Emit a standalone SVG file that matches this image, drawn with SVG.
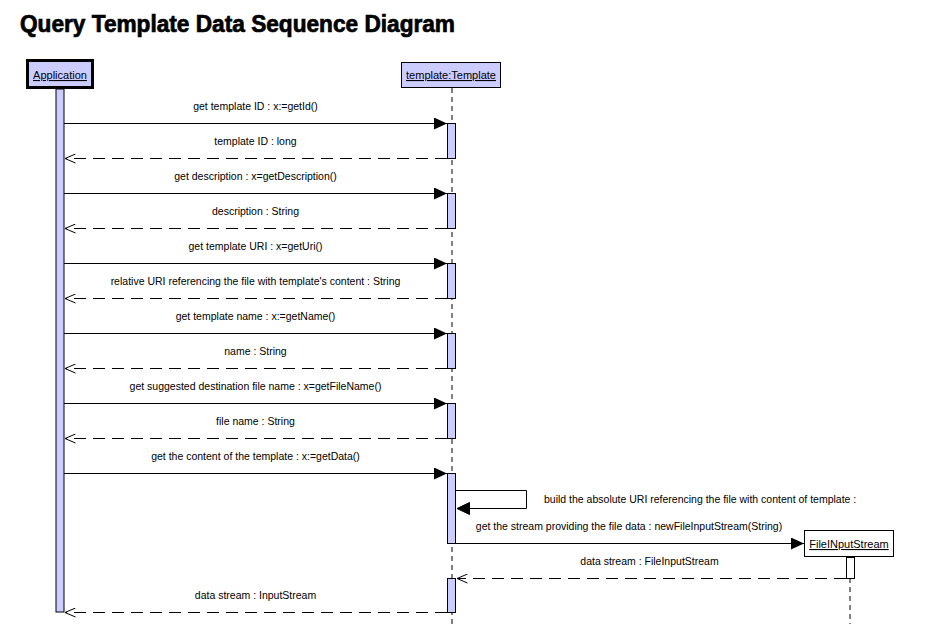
<svg xmlns="http://www.w3.org/2000/svg" width="940" height="624" viewBox="0 0 940 624">
<style>
text{font-family:"Liberation Sans",Arial,sans-serif;font-size:10.5px;fill:#000}
.lbl{text-anchor:middle}
.title{font-size:23px;font-weight:bold;stroke:#000;stroke-width:0.7}
.u{text-decoration:underline;text-anchor:middle;font-size:11px}
.act{fill:#ccccff;stroke:#000;stroke-width:1}
.life{stroke:#000;stroke-width:1;stroke-dasharray:5,4;fill:none}
.call{stroke:#000;stroke-width:1;fill:none;marker-end:url(#filled)}
.ret{stroke:#000;stroke-width:1;fill:none;stroke-dasharray:12,7;marker-end:url(#open)}
</style>
<defs>
<marker id="filled" viewBox="0 0 13 12" refX="13" refY="6" markerWidth="13" markerHeight="12" markerUnits="userSpaceOnUse" orient="auto">
<path d="M0,0 L13,6 L0,12 Z" fill="#000"/>
</marker>
<marker id="open" viewBox="0 0 12 10" refX="11.5" refY="5" markerWidth="12" markerHeight="10" markerUnits="userSpaceOnUse" orient="auto">
<path d="M1,0.5 L11.5,5 L1,9.5" fill="none" stroke="#000" stroke-width="1"/>
</marker>
</defs>
<rect width="940" height="624" fill="#fff"/>
<text class="title" x="20" y="32" textLength="435" lengthAdjust="spacingAndGlyphs">Query Template Data Sequence Diagram</text>

<g id="lifelines">
<line class="life" x1="452" y1="88" x2="452" y2="624"/>
<line class="life" x1="850" y1="578" x2="850" y2="624"/>
</g>

<g id="node-application">
<rect x="27.5" y="60.5" width="65" height="27" fill="#ccccff" stroke="#000" stroke-width="3"/>
<text class="u" x="60" y="79">Application</text>
<rect class="act" x="56" y="89" width="8" height="523"/>
</g>

<g id="node-template">
<rect x="401.5" y="62.5" width="99" height="25" fill="#ccccff" stroke="#000" stroke-width="1"/>
<text class="u" x="451" y="79">template:Template</text>
<rect class="act" x="447.5" y="123.5" width="8" height="35"/>
<rect class="act" x="447.5" y="193.5" width="8" height="35"/>
<rect class="act" x="447.5" y="263.5" width="8" height="35"/>
<rect class="act" x="447.5" y="333.5" width="8" height="35"/>
<rect class="act" x="447.5" y="403.5" width="8" height="35"/>
<rect class="act" x="447.5" y="473.5" width="8" height="70"/>
<rect class="act" x="447.5" y="578.5" width="8" height="34"/>
</g>

<g id="node-fileinputstream">
<rect x="804.5" y="530.5" width="89" height="26" fill="#fff" stroke="#000" stroke-width="1"/>
<text class="u" x="849" y="548">FileINputStream</text>
<rect x="846.5" y="557.5" width="8" height="21" fill="#fff" stroke="#000" stroke-width="1"/>
</g>

<g id="connectors">
<line class="call" x1="64" y1="123.5" x2="447" y2="123.5"/>
<line class="ret" x1="447" y1="158.5" x2="65" y2="158.5"/>
<line class="call" x1="64" y1="193.5" x2="447" y2="193.5"/>
<line class="ret" x1="447" y1="228.5" x2="65" y2="228.5"/>
<line class="call" x1="64" y1="263.5" x2="447" y2="263.5"/>
<line class="ret" x1="447" y1="298.5" x2="65" y2="298.5"/>
<line class="call" x1="64" y1="333.5" x2="447" y2="333.5"/>
<line class="ret" x1="447" y1="368.5" x2="65" y2="368.5"/>
<line class="call" x1="64" y1="403.5" x2="447" y2="403.5"/>
<line class="ret" x1="447" y1="438.5" x2="65" y2="438.5"/>
<line class="call" x1="64" y1="473.5" x2="447" y2="473.5"/>
<path d="M456,490.5 H526.5 V508.5 H469" stroke="#000" stroke-width="1" fill="none"/>
<path d="M457,508.5 L469.5,502.5 L469.5,514.5 Z" fill="#000" stroke="#000" stroke-width="1"/>
<line class="call" x1="456" y1="543.5" x2="804" y2="543.5"/>
<line class="ret" x1="846" y1="578.5" x2="457" y2="578.5"/>
<line class="ret" x1="447" y1="612.5" x2="65" y2="612.5"/>
</g>

<g id="labels">
<text class="lbl" x="255.5" y="110">get template ID : x:=getId()</text>
<text class="lbl" x="255.5" y="145">template ID : long</text>
<text class="lbl" x="255.5" y="180">get description : x=getDescription()</text>
<text class="lbl" x="255.5" y="215">description : String</text>
<text class="lbl" x="255.5" y="250">get template URI : x=getUri()</text>
<text class="lbl" x="255.5" y="285">relative URI referencing the file with template's content : String</text>
<text class="lbl" x="255.5" y="320">get template name : x:=getName()</text>
<text class="lbl" x="255.5" y="355">name : String</text>
<text class="lbl" x="255.5" y="390">get suggested destination file name : x=getFileName()</text>
<text class="lbl" x="255.5" y="425">file name : String</text>
<text class="lbl" x="255.5" y="460">get the content of the template : x:=getData()</text>
<text x="544" y="503">build the absolute URI referencing the file with content of template :</text>
<text class="lbl" x="629" y="530">get the stream providing the file data : newFileInputStream(String)</text>
<text class="lbl" x="649.5" y="565">data stream : FileInputStream</text>
<text class="lbl" x="255.5" y="599">data stream : InputStream</text>
</g>
</svg>
